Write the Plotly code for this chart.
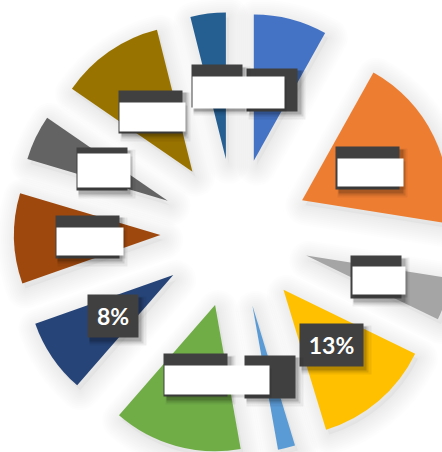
import math
import plotly.graph_objects as go

# Slice data (clockwise from 12 o'clock)
categories = ["Item 1", "Item 2", "Item 3", "Item 4", "Item 5", "Item 6",
              "Item 7", "Item 8", "Item 9", "Item 10", "Item 11"]
values = [8.1, 19.4, 4.7, 13.1, 1.9, 14.2, 8.2, 10.0, 5.0, 11.5, 3.9]
colors = ["#4472C4", "#ED7D31", "#A5A5A5", "#FFC000", "#5B9BD5", "#70AD47",
          "#264478", "#9E480E", "#636363", "#997300", "#255E91"]
# slices whose percentage label is shown in clear
shown_labels = ["Item 4", "Item 7"]
# white blanking boxes laid over the other labels: (dx, dy, w, h) px from label box top-left
blanked = {
    "Item 11": (0, 11, 91, 31),
    "Item 10": (0, 11, 65, 28),
    "Item 9": (0, 5, 52, 33),
    "Item 8": (0, 11, 66, 27),
    "Item 2": (1, 11, 65, 27),
    "Item 3": (1, 10, 52, 27),
    "Item 6": (0, 11, 104, 28),
}

PULL = 0.51
PIE_BOX = 442             # square box the pie is fitted into (px)
SH_DX, SH_DY = 3, 5       # drop-shadow offset (px)
AREA_W, AREA_H = PIE_BOX + SH_DX, PIE_BOX + SH_DY
M_L, M_T = 14, 12         # offsets of the plotting area
n = len(values)
total = sum(values)

main_dom = dict(x=[0, PIE_BOX / AREA_W], y=[SH_DY / AREA_H, 1])
shadow_dom = dict(x=[SH_DX / AREA_W, 1], y=[0, PIE_BOX / AREA_H])

fig = go.Figure()


def shadow_pie(fill, line_alpha, width):
    return go.Pie(
        labels=categories, values=values, sort=False, direction="clockwise",
        rotation=0, pull=[PULL] * n, textinfo="none", hoverinfo="skip",
        showlegend=False, domain=shadow_dom,
        marker=dict(colors=[fill] * n,
                    line=dict(color=f"rgba(0,0,0,{line_alpha})", width=width)),
    )


# blurred drop shadow: a faint core plus stacked translucent strokes
fig.add_trace(shadow_pie("rgba(0,0,0,0.03)", 0, 0))
for w in range(40, 0, -4):
    fig.add_trace(shadow_pie("rgba(0,0,0,0)", 0.009, w))

fig.add_trace(go.Pie(
    labels=categories, values=values, sort=False, direction="clockwise",
    rotation=0, pull=[PULL] * n, textinfo="none", showlegend=False,
    domain=main_dom, marker=dict(colors=colors, line=dict(width=0)),
))

# data-label boxes placed half a radius into each pulled slice
r_px = PIE_BOX / (2 * (1 + PULL))
label_r = (PULL + 0.5) * r_px
pie_cx = M_L + PIE_BOX / 2
pie_cy = M_T + PIE_BOX / 2


def px_to_paper(x, y):
    return (x - M_L) / AREA_W, 1 - (y - M_T) / AREA_H


annotations = []
cum = 0.0
for cat, v in zip(categories, values):
    frac = v / total
    mid = (cum + frac / 2) * 2 * math.pi
    cum += frac
    cx = pie_cx + label_r * math.sin(mid)
    cy = pie_cy - label_r * math.cos(mid)
    pct = f"{round(frac * 100)}%"
    bw = 50 if len(pct) <= 2 else 63
    bh = 42

    # box shadow
    for off, grow, a in [(5, 6, 0.06), (4, 3, 0.10), (3, 1, 0.16)]:
        sx, sy = px_to_paper(cx + off, cy + off)
        annotations.append(dict(
            x=sx, y=sy, xref="paper", yref="paper", xanchor="center",
            yanchor="middle", showarrow=False, text=" ",
            width=bw + grow, height=bh + grow, borderpad=0,
            bgcolor=f"rgba(0,0,0,{a})",
        ))
    px_, py_ = px_to_paper(cx, cy)
    annotations.append(dict(
        x=px_, y=py_, xref="paper", yref="paper", xanchor="center",
        yanchor="middle", showarrow=False,
        text=f"<b>{pct}</b>" if cat in shown_labels else " ",
        width=bw, height=bh, borderpad=0, bgcolor="#404040",
        font=dict(family="Lato, 'Open Sans', sans-serif", size=23, color="white"),
    ))
    if cat in blanked:
        dx, dy, w, h = blanked[cat]
        left, top = cx - bw / 2 + dx, cy - bh / 2 + dy
        # slight shadow under the blanking box
        shx, shy = px_to_paper(left + 2, top + 3)
        annotations.append(dict(
            x=shx, y=shy, xref="paper", yref="paper", xanchor="left",
            yanchor="top", showarrow=False, text=" ", width=w, height=h,
            borderpad=0, bgcolor="rgba(0,0,0,0.10)",
        ))
        wx, wy = px_to_paper(left, top)
        annotations.append(dict(
            x=wx, y=wy, xref="paper", yref="paper", xanchor="left",
            yanchor="top", showarrow=False, text=" ", width=w, height=h,
            borderpad=0, bgcolor="white",
        ))

fig.update_layout(
    width=M_L + AREA_W, height=M_T + AREA_H, autosize=False,
    margin=dict(l=M_L, r=0, t=M_T, b=0, pad=0),
    paper_bgcolor="white", plot_bgcolor="white",
    annotations=annotations,
)

fig.write_html(
    "out.html",
    config={"displayModeBar": False},
    post_script="document.documentElement.style.overflow='hidden';"
                "document.body.style.overflow='hidden';"
                "document.body.style.margin='0';",
)
